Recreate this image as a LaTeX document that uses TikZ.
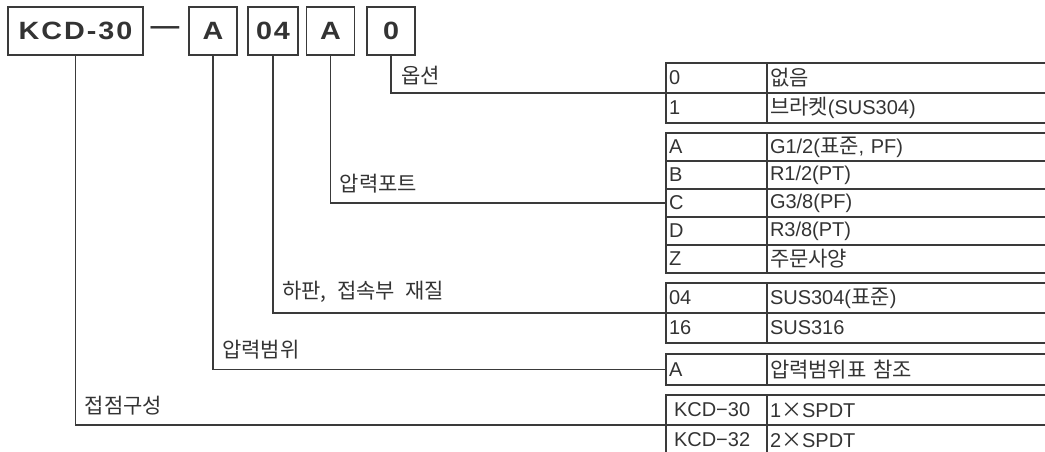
\documentclass[tikz,border=0pt]{standalone}
\usepackage{fontspec}
\usepackage{xcolor}
\setmainfont{Liberation Sans}
\newfontfamily\krfont[Scale=1.05,WordSpace=2.2]{Noto Sans CJK KR}
\newfontfamily\codefont[FakeStretch=1.15,LetterSpace=8]{Liberation Sans}
\usetikzlibrary{positioning}

\definecolor{ink}{HTML}{333333}
\definecolor{rule}{HTML}{3A3A3A}
\newcommand{\kr}[1]{{\krfont #1}}
\newcommand{\codebf}{\codefont\bfseries\fontsize{25}{25}\selectfont}
\newcommand{\tabfont}{\fontsize{20}{22}\selectfont}
\newcommand{\lblfont}{\krfont\fontsize{20}{22}\selectfont}

\begin{document}
\begin{tikzpicture}[x=1pt, y=-1pt,
      codebox/.style={draw=rule, line width=1.5pt, minimum height=48pt, minimum width=48pt, inner sep=0pt, font=\codebf, text=ink},
      cell/.style={draw=rule, line width=1.4pt, outer sep=0pt, inner xsep=3pt, inner ysep=0pt, align=left, anchor=north west, font=\tabfont, text=ink, minimum height=#1},
      cell/.default=30pt,
      cola/.style={cell=#1, text width=95pt},
      cola/.default=30pt,
      colb/.style={cell=#1, text width=294pt},
      colb/.default=30pt,
      lead/.style={draw=rule, line width=1.2pt},
      lbl/.style={font=\lblfont, text=ink, inner sep=0pt}
    ]
    \useasboundingbox (0,0) rectangle (1045,452);
    \clip (0,0) rectangle (1045,452);

    % model code
    \node[codebox, minimum width=135pt] (kcd) at (75.5,31) {KCD-30};
    \node[font=\codebf, text=ink, inner sep=0pt] (dash) at (165,31) {—};
    \node[codebox] (rng) at (213,31) {A};
    \node[codebox, minimum width=50pt] (mat) at (273,31) {04};
    \node[codebox] (port) at (330.5,31) {A};
    \node[codebox] (opt) at (391,31) {0};

    % option
    \node[cola] (o0) at (666,63) {0};
    \node[colb, right=0pt of o0] (o0d) {\kr{없음}};
    \node[cola, below=0pt of o0] (o1) {1};
    \node[colb, right=0pt of o1] (o1d) {\kr{브라켓}(SUS304)};

    % pressure port
    \node[cola=28pt] (pA) at (666,133) {A};
    \node[colb=28pt, right=0pt of pA] (pAd) {G1/2(\kr{표준}, PF)};
    \node[cola=28pt, below=0pt of pA] (pB) {B};
    \node[colb=28pt, right=0pt of pB] (pBd) {R1/2(PT)};
    \node[cola=28pt, below=0pt of pB] (pC) {C};
    \node[colb=28pt, right=0pt of pC] (pCd) {G3/8(PF)};
    \node[cola=28pt, below=0pt of pC] (pD) {D};
    \node[colb=28pt, right=0pt of pD] (pDd) {R3/8(PT)};
    \node[cola=28pt, below=0pt of pD] (pZ) {Z};
    \node[colb=28pt, right=0pt of pZ] (pZd) {\kr{주문사양}};

    % material
    \node[cola] (m04) at (666,283) {04};
    \node[colb, right=0pt of m04] (m04d) {SUS304(\kr{표준})};
    \node[cola, below=0pt of m04] (m16) {16};
    \node[colb, right=0pt of m16] (m16d) {SUS316};

    % pressure range
    \node[cola=31pt] (rA) at (666,354) {A};
    \node[colb=31pt, right=0pt of rA] (rAd) {\kr{압력범위표 참조}};

    % contacts
    \node[cola] (k30) at (666,395) {\hspace*{5pt}KCD−30};
    \node[colb, right=0pt of k30] (k30d) {1\kr{×}SPDT};
    \node[cola, below=0pt of k30] (k32) {\hspace*{5pt}KCD−32};
    \node[colb, right=0pt of k32] (k32d) {2\kr{×}SPDT};

    % leaders
    \draw[lead] (opt.south) |- (o1.north west) coordinate[pos=0.5] (c0);
    \draw[lead] (port.south) |- (pC.west) coordinate[pos=0.5] (c1);
    \draw[lead] (mat.south) |- (m16.north west) coordinate[pos=0.5] (c2);
    \draw[lead] (rng.south) |- (rA.west) coordinate[pos=0.5] (c3);
    \draw[lead] (kcd.south) |- (k32.north west) coordinate[pos=0.5] (c4);

    \node[lbl, above right=8pt and 10pt of c0] (l0) {옵션};
    \node[lbl, above right=10pt and 9pt of c1] (l1) {압력포트};
    \node[lbl, above right=10pt and 9pt of c2] (l2) {하판, 접속부 재질};
    \node[lbl, above right=10pt and 9pt of c3] (l3) {압력범위};
    \node[lbl, above right=10pt and 9pt of c4] (l4) {접점구성};
  \end{tikzpicture}
\end{document}
